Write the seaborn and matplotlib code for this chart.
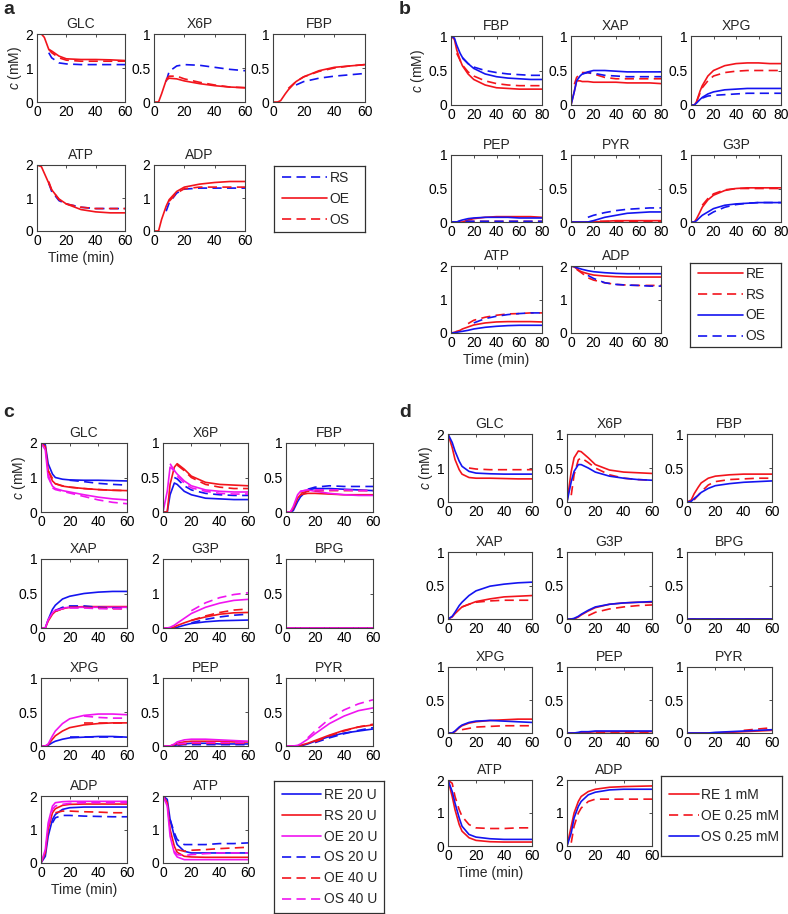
import numpy as np
import pandas as pd
import matplotlib
matplotlib.use('Agg')
import matplotlib.pyplot as plt
from matplotlib.lines import Line2D
from matplotlib.ticker import FormatStrFormatter
import seaborn as sns

N = np.nan

# ---- panel a : time points + concentrations (RS, OE, OS) ----
t_a = [0, 3, 5, 8, 10, 15, 20, 30, 40, 50, 60]
a_series = ['RS', 'OE', 'OS']
a_GLC = [[N, N, N, 1.45, 1.3, 1.15, 1.12, 1.1, 1.1, 1.1, 1.1],
         [2.0, 2.0, 1.9, 1.55, 1.5, 1.35, 1.27, 1.25, 1.25, 1.24, 1.22],
         [N, N, N, 1.55, 1.45, 1.3, 1.23, 1.2, 1.2, 1.2, 1.2]]
a_X6P = [[N, N, N, 0.3, 0.45, 0.53, 0.55, 0.54, 0.51, 0.48, 0.46],
         [0, 0, 0.12, 0.32, 0.35, 0.34, 0.31, 0.27, 0.24, 0.22, 0.21],
         [N, N, N, 0.33, 0.38, 0.38, 0.34, 0.29, 0.25, 0.22, 0.21]]
a_FBP = [[N, N, N, N, N, 0.25, 0.3, 0.35, 0.38, 0.4, 0.42],
         [0, 0, 0.02, 0.12, 0.18, 0.3, 0.37, 0.46, 0.51, 0.53, 0.55],
         [N, N, N, N, 0.2, 0.3, 0.37, 0.45, 0.5, 0.53, 0.55]]
a_ATP = [[N, N, N, 1.45, 1.2, 0.92, 0.82, 0.72, 0.68, 0.68, 0.68],
         [2.0, 1.95, 1.75, 1.45, 1.25, 0.97, 0.82, 0.65, 0.58, 0.55, 0.55],
         [N, N, N, 1.5, 1.25, 0.95, 0.82, 0.72, 0.68, 0.68, 0.68]]
a_ADP = [[N, N, N, 0.6, 0.85, 1.15, 1.27, 1.3, 1.3, 1.3, 1.3],
         [0, 0, 0.35, 0.75, 0.95, 1.2, 1.33, 1.42, 1.47, 1.5, 1.5],
         [N, N, N, N, 0.9, 1.15, 1.28, 1.33, 1.33, 1.33, 1.33]]

# ---- panel b : (RE, RS, OE, OS) ----
t_b = [0, 3, 5, 8, 10, 15, 20, 30, 40, 50, 60, 70, 80]
b_series = ['RE', 'RS', 'OE', 'OS']
b_FBP = [[1.0, 0.95, 0.8, 0.65, 0.57, 0.45, 0.37, 0.29, 0.25, 0.24, 0.23, 0.23, 0.23],
         [N, N, 0.75, N, 0.58, 0.48, 0.42, 0.35, 0.31, 0.29, 0.28, 0.28, 0.28],
         [1.0, 0.97, 0.87, 0.75, 0.69, 0.6, 0.53, 0.45, 0.41, 0.39, 0.38, 0.37, 0.37],
         [N, N, N, N, 0.68, 0.6, 0.55, 0.5, 0.47, 0.45, 0.44, 0.43, 0.43]]
b_XAP = [[0, 0.2, 0.35, 0.35, 0.34, 0.34, 0.33, 0.33, 0.33, 0.32, 0.32, 0.32, 0.31],
         [N, 0.3, 0.4, 0.45, 0.47, 0.47, 0.45, 0.4, 0.38, 0.38, 0.38, 0.38, 0.38],
         [0, 0.2, 0.35, 0.42, 0.45, 0.48, 0.5, 0.5, 0.49, 0.48, 0.48, 0.48, 0.48],
         [N, N, N, N, 0.45, 0.47, 0.46, 0.43, 0.42, 0.41, 0.41, 0.41, 0.41]]
b_XPG = [[0, 0, 0.05, 0.2, 0.28, 0.42, 0.5, 0.57, 0.6, 0.61, 0.61, 0.6, 0.6],
         [N, N, 0.05, N, 0.25, 0.35, 0.42, 0.47, 0.49, 0.5, 0.5, 0.5, 0.5],
         [0, 0, 0.03, 0.08, 0.11, 0.16, 0.19, 0.22, 0.23, 0.24, 0.24, 0.24, 0.24],
         [N, N, N, N, 0.1, 0.13, 0.14, 0.15, 0.16, 0.17, 0.17, 0.17, 0.17]]
b_PEP = [[0, 0, 0, 0, 0, 0.03, 0.05, 0.07, 0.08, 0.08, 0.08, 0.08, 0.07],
         [0, 0, 0, 0.01, 0.01, 0.01, 0.01, 0.01, 0.01, 0.01, 0.01, 0.01, 0.01],
         [0, 0, 0, 0.02, 0.03, 0.05, 0.06, 0.07, 0.07, 0.07, 0.06, 0.06, 0.06],
         [0, 0, 0, 0.01, 0.01, 0.01, 0.01, 0.01, 0.01, 0.01, 0.01, 0.01, 0.01]]
b_PYR = [[0, 0, 0, 0, 0, 0, 0, 0.01, 0.02, 0.02, 0.02, 0.02, 0.02],
         [0, 0, 0, 0, 0, 0, 0.01, 0.01, 0.01, 0.01, 0.01, 0.01, 0.01],
         [0, 0, 0, 0, 0, 0, 0.02, 0.07, 0.1, 0.13, 0.14, 0.15, 0.15],
         [N, N, N, N, N, 0.07, 0.1, 0.14, 0.17, 0.19, 0.2, 0.21, 0.21]]
b_G3P = [[0, 0, 0.05, 0.15, 0.22, 0.33, 0.4, 0.47, 0.5, 0.51, 0.51, 0.51, 0.51],
         [N, N, N, N, 0.25, 0.35, 0.42, 0.48, 0.5, 0.5, 0.5, 0.5, 0.5],
         [0, 0, 0.02, 0.07, 0.1, 0.15, 0.2, 0.25, 0.27, 0.28, 0.29, 0.29, 0.29],
         [N, N, N, N, N, 0.1, 0.15, 0.22, 0.26, 0.28, 0.29, 0.29, 0.29]]
b_ATP = [[0, 0.02, 0.05, 0.08, 0.12, 0.18, 0.24, 0.3, 0.33, 0.34, 0.34, 0.34, 0.33],
         [N, N, N, N, N, 0.28, 0.38, 0.47, 0.53, 0.57, 0.58, 0.6, 0.6],
         [0, 0.01, 0.02, 0.04, 0.05, 0.08, 0.12, 0.17, 0.2, 0.22, 0.23, 0.23, 0.23],
         [N, N, N, N, N, N, 0.3, 0.43, 0.5, 0.55, 0.58, 0.6, 0.6]]
b_ADP = [[2.0, 1.97, 1.92, 1.85, 1.82, 1.77, 1.73, 1.7, 1.68, 1.67, 1.67, 1.67, 1.67],
         [N, N, 1.9, N, 1.78, 1.65, 1.58, 1.5, 1.45, 1.43, 1.42, 1.42, 1.42],
         [2.0, 1.98, 1.95, 1.92, 1.9, 1.86, 1.83, 1.8, 1.78, 1.77, 1.77, 1.77, 1.77],
         [N, N, N, N, N, 1.72, 1.63, 1.5, 1.45, 1.43, 1.42, 1.4, 1.4]]

# ---- panel c : (RE 20, RS 20, OE 20, OS 20, OE 40, OS 40) ----
t_c = [0, 3, 5, 8, 10, 15, 20, 30, 40, 50, 60]
c_series = ['RE 20 U', 'RS 20 U', 'OE 20 U', 'OS 20 U', 'OE 40 U', 'OS 40 U']
c_GLC = [[2.0, 1.95, 1.4, 1.1, 1.0, 0.95, 0.93, 0.92, 0.92, 0.91, 0.9],
         [2.0, 1.9, 1.2, 0.9, 0.82, 0.75, 0.72, 0.68, 0.65, 0.63, 0.62],
         [2.0, 1.8, 1.0, 0.75, 0.68, 0.62, 0.58, 0.5, 0.43, 0.38, 0.35],
         [N, N, N, N, N, N, 0.92, 0.88, 0.83, 0.8, 0.78],
         [N, N, 1.2, N, 0.82, 0.76, 0.72, 0.68, 0.65, 0.63, 0.62],
         [N, N, 1.1, 0.7, 0.65, 0.6, 0.55, 0.45, 0.35, 0.28, 0.24]]
c_X6P = [[0, 0, 0.25, 0.42, 0.4, 0.3, 0.25, 0.2, 0.19, 0.18, 0.18],
         [0, 0, 0.4, 0.65, 0.7, 0.62, 0.52, 0.43, 0.4, 0.39, 0.38],
         [0, 0.3, 0.65, 0.6, 0.55, 0.45, 0.38, 0.32, 0.3, 0.29, 0.29],
         [N, N, N, 0.5, 0.48, 0.38, 0.32, 0.27, 0.25, 0.24, 0.24],
         [N, N, N, N, 0.68, 0.6, 0.5, 0.4, 0.36, 0.34, 0.34],
         [N, N, 0.7, 0.6, 0.52, 0.42, 0.35, 0.3, 0.27, 0.26, 0.26]]
c_FBP = [[0, 0, 0.02, 0.15, 0.22, 0.32, 0.34, 0.34, 0.33, 0.32, 0.31],
         [0, 0, 0.05, 0.2, 0.25, 0.27, 0.27, 0.26, 0.25, 0.25, 0.25],
         [0, 0, 0.08, 0.25, 0.3, 0.32, 0.3, 0.27, 0.25, 0.24, 0.24],
         [N, N, N, N, N, 0.33, 0.36, 0.38, 0.37, 0.37, 0.37],
         [N, N, N, N, 0.27, 0.3, 0.31, 0.31, 0.31, 0.31, 0.31],
         [N, N, N, N, 0.3, 0.32, 0.32, 0.32, 0.32, 0.31, 0.31]]
c_XAP = [[0, 0, 0.12, 0.27, 0.33, 0.42, 0.46, 0.5, 0.52, 0.53, 0.53],
         [0, 0, 0.1, 0.2, 0.24, 0.28, 0.3, 0.31, 0.31, 0.31, 0.31],
         [0, 0, 0.12, 0.22, 0.26, 0.29, 0.3, 0.3, 0.3, 0.3, 0.3],
         [N, N, N, N, 0.25, 0.3, 0.32, 0.32, 0.3, 0.29, 0.28],
         [N, N, N, N, 0.24, 0.28, 0.3, 0.3, 0.29, 0.28, 0.28],
         [N, N, N, N, 0.25, 0.28, 0.29, 0.29, 0.28, 0.28, 0.28]]
c_G3P = [[0, 0, 0, 0, 0.02, 0.08, 0.13, 0.18, 0.21, 0.22, 0.23],
         [0, 0, 0, 0.03, 0.07, 0.15, 0.22, 0.32, 0.4, 0.44, 0.45],
         [0, 0, 0.02, 0.08, 0.14, 0.28, 0.42, 0.6, 0.72, 0.8, 0.83],
         [N, N, N, N, N, N, 0.15, 0.25, 0.32, 0.37, 0.4],
         [N, N, N, N, N, N, 0.22, 0.35, 0.45, 0.52, 0.55],
         [N, N, N, N, N, N, 0.5, 0.73, 0.88, 0.97, 1.02]]
c_BPG = [[0] * 11 for _ in range(6)]
c_XPG = [[0, 0, 0.01, 0.05, 0.07, 0.1, 0.12, 0.13, 0.14, 0.14, 0.13],
         [0, 0, 0.02, 0.1, 0.15, 0.22, 0.27, 0.31, 0.33, 0.34, 0.34],
         [0, 0, 0.03, 0.15, 0.22, 0.33, 0.4, 0.45, 0.47, 0.47, 0.46],
         [N, N, N, N, N, N, 0.13, 0.13, 0.13, 0.13, 0.13],
         [N, N, N, N, N, N, N, 0.34, 0.34, 0.34, 0.34],
         [N, N, N, N, N, N, N, 0.44, 0.42, 0.41, 0.41]]
c_PEP = [[0, 0, 0, 0, 0.02, 0.03, 0.04, 0.04, 0.03, 0.03, 0.03],
         [0, 0, 0, 0.02, 0.04, 0.06, 0.07, 0.07, 0.07, 0.06, 0.06],
         [0, 0, 0, 0.03, 0.06, 0.09, 0.1, 0.1, 0.09, 0.08, 0.07],
         [0, 0, 0, 0, 0.01, 0.02, 0.02, 0.02, 0.02, 0.02, 0.02],
         [0, 0, 0, 0.01, 0.02, 0.03, 0.04, 0.04, 0.04, 0.04, 0.04],
         [0, 0, 0, 0.01, 0.03, 0.04, 0.05, 0.05, 0.05, 0.05, 0.05]]
c_PYR = [[0, 0, 0, 0, 0, 0.03, 0.07, 0.14, 0.19, 0.22, 0.25],
         [0, 0, 0, 0, 0.01, 0.04, 0.08, 0.16, 0.23, 0.28, 0.31],
         [0, 0, 0, 0.01, 0.03, 0.1, 0.18, 0.33, 0.44, 0.52, 0.56],
         [N, N, N, N, N, N, 0.05, 0.12, 0.18, 0.23, 0.27],
         [N, N, N, N, N, N, 0.06, 0.15, 0.22, 0.28, 0.32],
         [N, N, N, N, N, 0.12, 0.22, 0.4, 0.53, 0.62, 0.68]]
c_ADP = [[0, 0.2, 0.8, 1.3, 1.45, 1.6, 1.65, 1.67, 1.67, 1.67, 1.67],
         [0, 0.3, 1.0, 1.5, 1.62, 1.72, 1.75, 1.76, 1.76, 1.76, 1.76],
         [0, 0.4, 1.2, 1.7, 1.8, 1.83, 1.84, 1.84, 1.84, 1.84, 1.84],
         [N, N, N, 1.2, 1.35, 1.42, 1.42, 1.4, 1.39, 1.38, 1.38],
         [N, N, N, N, 1.5, 1.55, 1.55, 1.53, 1.52, 1.5, 1.5],
         [N, N, 1.1, 1.6, 1.7, 1.75, 1.78, 1.8, 1.8, 1.8, 1.8]]
c_ATP = [[2.0, 1.9, 1.3, 0.8, 0.55, 0.35, 0.3, 0.3, 0.3, 0.3, 0.3],
         [2.0, 1.8, 1.0, 0.5, 0.32, 0.2, 0.18, 0.17, 0.17, 0.17, 0.17],
         [2.0, 1.7, 0.8, 0.3, 0.18, 0.1, 0.1, 0.1, 0.1, 0.1, 0.1],
         [N, N, 1.3, 0.9, 0.7, 0.55, 0.55, 0.55, 0.58, 0.58, 0.6],
         [N, N, N, N, 0.4, 0.35, 0.38, 0.4, 0.43, 0.45, 0.47],
         [N, N, N, 0.35, 0.25, 0.22, 0.25, 0.28, 0.3, 0.3, 0.3]]

# ---- panel d : (RE 1 mM, OE 0.25 mM, OS 0.25 mM) ----
t_d = [0, 3, 5, 8, 10, 15, 20, 30, 40, 50, 60]
d_series = ['RE 1 mM', 'OE 0.25 mM', 'OS 0.25 mM']
d_GLC = [[2.0, 1.6, 1.25, 0.95, 0.82, 0.72, 0.7, 0.7, 0.69, 0.68, 0.68],
         [N, N, N, N, N, 1.0, 0.97, 0.95, 0.95, 0.95, 0.95],
         [2.0, 1.75, 1.5, 1.2, 1.05, 0.9, 0.85, 0.83, 0.82, 0.82, 0.82]]
d_X6P = [[0, 0.45, 0.65, 0.75, 0.74, 0.65, 0.55, 0.47, 0.44, 0.43, 0.42],
         [N, 0.1, 0.4, 0.62, 0.65, 0.58, 0.5, 0.4, 0.35, 0.33, 0.32],
         [0, 0.3, 0.45, 0.55, 0.55, 0.5, 0.44, 0.38, 0.35, 0.33, 0.32]]
d_FBP = [[0, 0.03, 0.12, 0.22, 0.28, 0.35, 0.38, 0.4, 0.41, 0.41, 0.41],
         [N, N, 0.03, N, 0.15, 0.25, 0.3, 0.33, 0.34, 0.35, 0.35],
         [0, 0.01, 0.05, 0.1, 0.14, 0.2, 0.24, 0.27, 0.29, 0.3, 0.31]]
d_XAP = [[0, 0.03, 0.08, 0.14, 0.18, 0.22, 0.26, 0.3, 0.33, 0.34, 0.35],
         [N, N, N, N, 0.18, 0.22, 0.25, 0.27, 0.28, 0.28, 0.28],
         [0, 0.04, 0.1, 0.2, 0.25, 0.35, 0.42, 0.49, 0.52, 0.54, 0.55]]
d_G3P = [[0, 0, 0, 0.03, 0.06, 0.12, 0.17, 0.22, 0.24, 0.25, 0.25],
         [N, N, N, N, N, 0.05, 0.1, 0.15, 0.18, 0.2, 0.21],
         [0, 0, 0.01, 0.04, 0.07, 0.13, 0.18, 0.22, 0.24, 0.25, 0.26]]
d_BPG = [[0] * 11 for _ in range(3)]
d_XPG = [[0, 0, 0.02, 0.08, 0.11, 0.15, 0.17, 0.19, 0.2, 0.21, 0.21],
         [N, N, N, N, 0.05, 0.07, 0.09, 0.1, 0.11, 0.11, 0.11],
         [0, 0, 0.03, 0.09, 0.12, 0.16, 0.18, 0.19, 0.18, 0.17, 0.16]]
d_PEP = [[0, 0, 0, 0, 0.01, 0.01, 0.02, 0.02, 0.02, 0.02, 0.02],
         [0, 0, 0, 0, 0.01, 0.01, 0.01, 0.01, 0.01, 0.01, 0.01],
         [0, 0, 0, 0.01, 0.02, 0.02, 0.03, 0.03, 0.03, 0.03, 0.03]]
d_PYR = [[0, 0, 0, 0, 0, 0, 0, 0.01, 0.02, 0.03, 0.04],
         [N, N, N, N, N, N, N, N, 0.04, 0.06, 0.08],
         [0, 0, 0, 0, 0, 0, 0.01, 0.02, 0.03, 0.04, 0.05]]
d_ATP = [[2.0, 1.5, 1.1, 0.65, 0.45, 0.25, 0.17, 0.13, 0.12, 0.12, 0.12],
         [2.0, 1.9, 1.5, 1.1, 0.9, 0.65, 0.55, 0.53, 0.53, 0.55, 0.55],
         [2.0, 1.65, 1.3, 0.85, 0.6, 0.35, 0.27, 0.22, 0.2, 0.2, 0.2]]
d_ADP = [[0, 0.6, 1.0, 1.35, 1.5, 1.65, 1.72, 1.78, 1.8, 1.81, 1.82],
         [N, 0.1, 0.6, 1.0, 1.15, 1.35, 1.42, 1.42, 1.42, 1.42, 1.42],
         [0, 0.4, 0.85, 1.2, 1.35, 1.55, 1.63, 1.7, 1.72, 1.72, 1.72]]

RED, BLUE, MAG = '#f2141c', '#1414f0', '#f014f0'
DASH = (5.5, 3.2)
FS = 10

sns.set_theme(style='white')
plt.rcParams['font.family'] = ['Liberation Sans', 'DejaVu Sans']
plt.rcParams['mathtext.fontset'] = 'custom'
plt.rcParams['mathtext.rm'] = 'Liberation Sans'
plt.rcParams['mathtext.it'] = 'Liberation Sans:italic'

W, H = 788, 914
fig = plt.figure(figsize=(W / 100, H / 100), dpi=100)


def box(x0, y0, x1, y1):
    return [x0 / W, 1 - y1 / H, (x1 - x0) / W, (y1 - y0) / H]


def long_df(t, series, data):
    rows = []
    for sp, vals in data.items():
        for name, ys in zip(series, vals):
            for x, y in zip(t, ys):
                rows.append((sp, name, x, y))
    return pd.DataFrame(rows, columns=['species', 'series', 't', 'c'])


def panel(t, series, data, layout, cols, rows, colors, dashes, xmax, big,
          leg_box, leg_hl, tlabel_sp):
    df = long_df(t, series, data).dropna(subset=['c'])
    first = True
    for sp, (r, k) in layout.items():
        ax = fig.add_axes(box(cols[k][0], rows[r][0], cols[k][1], rows[r][1]))
        sub = df[df['species'] == sp]
        sns.lineplot(data=sub, x='t', y='c', hue='series', style='series',
                     hue_order=series, style_order=series, palette=colors,
                     dashes=dashes, estimator=None, lw=1.2, legend=False, ax=ax)
        ymax = 2 if sp in big else 1
        ax.set_xlim(0, xmax)
        ax.set_ylim(0, ymax)
        ax.set_xticks(list(range(0, xmax + 1, 20)))
        ax.set_yticks([0, 1, 2] if ymax == 2 else [0, 0.5, 1])
        ax.yaxis.set_major_formatter(FormatStrFormatter('%g'))
        ax.tick_params(direction='in', length=2, width=0.6, labelsize=FS,
                       top=True, right=True, pad=2.5, colors='#303030',
                       labelcolor='black')
        for s in ax.spines.values():
            s.set_color('#404040')
            s.set_linewidth(0.8)
        ax.set_title(sp, fontsize=FS, pad=4)
        ax.set_xlabel('Time (min)' if sp == tlabel_sp else '', fontsize=FS, labelpad=2)
        ax.set_ylabel(r'$c$ (mM)' if first else '', fontsize=FS, labelpad=1)
        first = False
    lax = fig.add_axes(box(*leg_box))
    lax.set_xticks([])
    lax.set_yticks([])
    for s in lax.spines.values():
        s.set_color('#303030')
        s.set_linewidth(0.9)
    handles = [Line2D([], [], color=colors[s], lw=1.2,
                      dashes=dashes[s] if dashes[s] else (None, None)) for s in series]
    lax.legend(handles, series, loc='center left', frameon=False, fontsize=FS,
               handlelength=leg_hl, handletextpad=0.2, labelspacing=0.5,
               borderaxespad=0.2)


# panel a
panel(t_a, a_series,
      {'GLC': a_GLC, 'X6P': a_X6P, 'FBP': a_FBP, 'ATP': a_ATP, 'ADP': a_ADP},
      {'GLC': (0, 0), 'X6P': (0, 1), 'FBP': (0, 2), 'ATP': (1, 0), 'ADP': (1, 1)},
      [(37, 125), (154, 245), (273, 365)], [(34, 102), (165, 231)],
      {'RS': BLUE, 'OE': RED, 'OS': RED},
      {'RS': DASH, 'OE': '', 'OS': DASH},
      60, {'GLC', 'ATP', 'ADP'}, (274, 166, 365, 232), 3.2, 'ATP')

# panel b
panel(t_b, b_series,
      {'FBP': b_FBP, 'XAP': b_XAP, 'XPG': b_XPG, 'PEP': b_PEP, 'PYR': b_PYR,
       'G3P': b_G3P, 'ATP': b_ATP, 'ADP': b_ADP},
      {'FBP': (0, 0), 'XAP': (0, 1), 'XPG': (0, 2), 'PEP': (1, 0), 'PYR': (1, 1),
       'G3P': (1, 2), 'ATP': (2, 0), 'ADP': (2, 1)},
      [(451, 542), (571, 661), (691, 781)], [(36, 105), (155, 222), (266, 333)],
      {'RE': RED, 'RS': RED, 'OE': BLUE, 'OS': BLUE},
      {'RE': '', 'RS': DASH, 'OE': '', 'OS': DASH},
      80, {'ATP', 'ADP'}, (690, 263, 781, 347), 3.2, 'ATP')

# panel c
panel(t_c, c_series,
      {'GLC': c_GLC, 'X6P': c_X6P, 'FBP': c_FBP, 'XAP': c_XAP, 'G3P': c_G3P,
       'BPG': c_BPG, 'XPG': c_XPG, 'PEP': c_PEP, 'PYR': c_PYR, 'ADP': c_ADP,
       'ATP': c_ATP},
      {'GLC': (0, 0), 'X6P': (0, 1), 'FBP': (0, 2), 'XAP': (1, 0), 'G3P': (1, 1),
       'BPG': (1, 2), 'XPG': (2, 0), 'PEP': (2, 1), 'PYR': (2, 2), 'ADP': (3, 0),
       'ATP': (3, 1)},
      [(41, 127), (163, 248), (286, 373)],
      [(443, 512), (559, 628), (678, 746), (796, 863)],
      {'RE 20 U': BLUE, 'RS 20 U': RED, 'OE 20 U': MAG,
       'OS 20 U': BLUE, 'OE 40 U': RED, 'OS 40 U': MAG},
      {'RE 20 U': '', 'RS 20 U': '', 'OE 20 U': '',
       'OS 20 U': DASH, 'OE 40 U': DASH, 'OS 40 U': DASH},
      60, {'GLC', 'G3P', 'ADP', 'ATP'}, (274, 781, 384, 913), 2.8, 'ADP')

# panel d
panel(t_d, d_series,
      {'GLC': d_GLC, 'X6P': d_X6P, 'FBP': d_FBP, 'XAP': d_XAP, 'G3P': d_G3P,
       'BPG': d_BPG, 'XPG': d_XPG, 'PEP': d_PEP, 'PYR': d_PYR, 'ATP': d_ATP,
       'ADP': d_ADP},
      {'GLC': (0, 0), 'X6P': (0, 1), 'FBP': (0, 2), 'XAP': (1, 0), 'G3P': (1, 1),
       'BPG': (1, 2), 'XPG': (2, 0), 'PEP': (2, 1), 'PYR': (2, 2), 'ATP': (3, 0),
       'ADP': (3, 1)},
      [(448, 532), (567, 652), (687, 772)],
      [(434, 502), (552, 619), (667, 733), (780, 846)],
      {'RE 1 mM': RED, 'OE 0.25 mM': RED, 'OS 0.25 mM': BLUE},
      {'RE 1 mM': '', 'OE 0.25 mM': DASH, 'OS 0.25 mM': ''},
      60, {'GLC', 'ATP', 'ADP'}, (661, 776, 782, 856), 2.1, 'ATP')

for lab, x, y in [('a', 3, 10), ('b', 399, 10), ('c', 3, 412), ('d', 399, 412)]:
    fig.text(x / W, 1 - y / H, lab, fontsize=14, fontweight='bold', va='center', ha='left')

fig.savefig('out.png', dpi=100)
